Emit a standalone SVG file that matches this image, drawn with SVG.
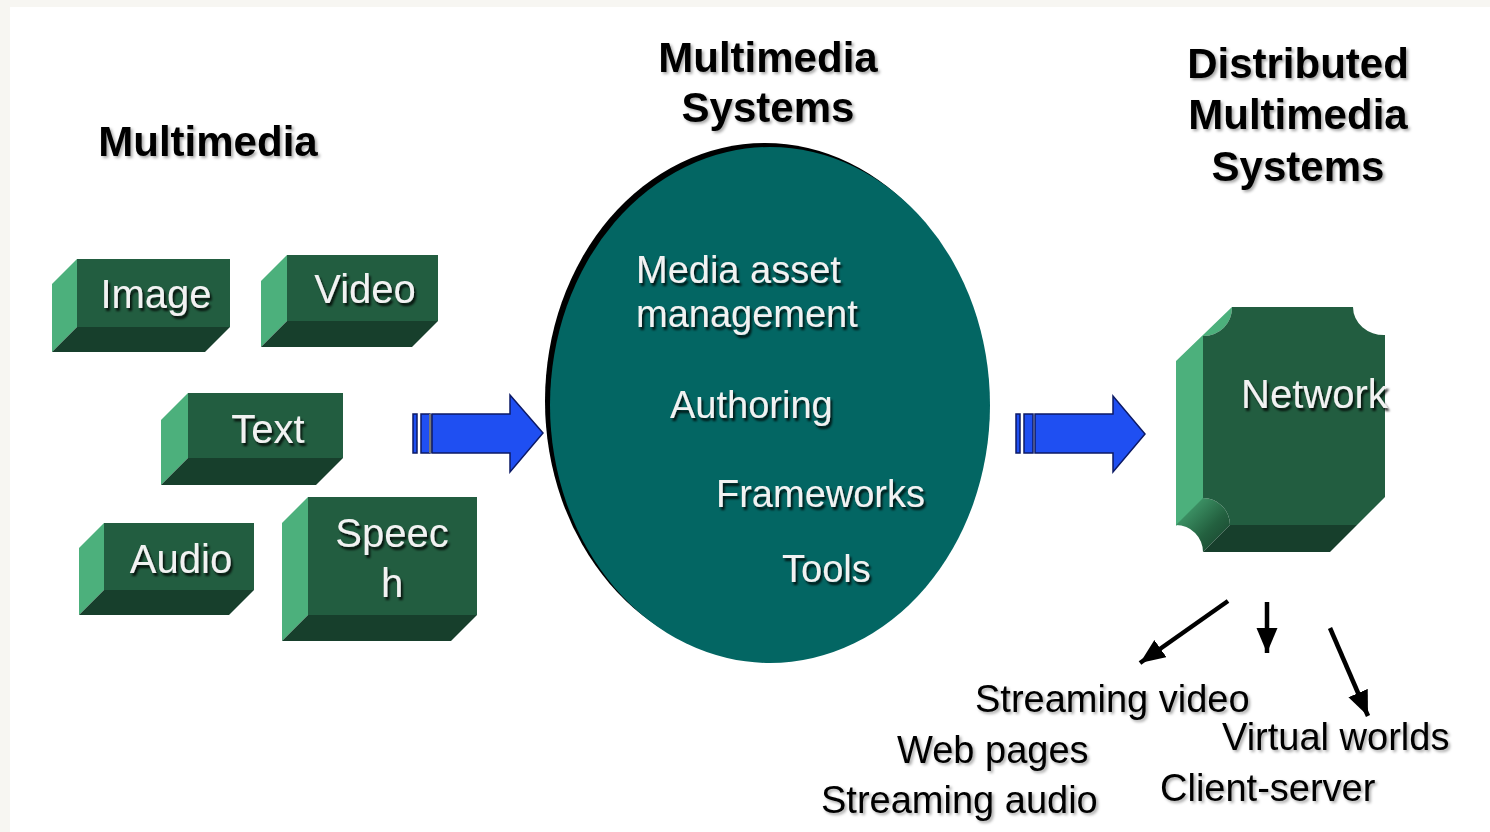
<svg xmlns="http://www.w3.org/2000/svg" width="1490" height="832" viewBox="0 0 1490 832">
  <style>
    .title { font-family: "Liberation Sans", Arial, sans-serif; font-weight: bold; font-size: 42px; fill: #000; text-anchor: middle; }
    .label { font-family: "Liberation Sans", Arial, sans-serif; font-size: 40px; fill: #f2f2f2; text-anchor: middle; }
    .inner { font-family: "Liberation Sans", Arial, sans-serif; font-size: 38px; fill: #f2f2f2; }
    .out { font-family: "Liberation Sans", Arial, sans-serif; font-size: 38px; fill: #000; }
    .front { fill: #225d40; }
    .side { fill: #4cb07c; }
    .bottom { fill: #173f2c; }
    .blue { fill: #1f4ff2; stroke: #0c1a66; stroke-width: 1.5; }
    .conn { stroke: #000; stroke-width: 4.5; fill: none; marker-end: url(#head); }
  </style>
  <defs>
    <filter id="dropDark" x="-10%" y="-30%" width="130%" height="170%">
      <feGaussianBlur in="SourceAlpha" stdDeviation="1.2"/>
      <feOffset dx="2" dy="2.5" result="o"/>
      <feFlood flood-color="#000" flood-opacity="0.8"/>
      <feComposite in2="o" operator="in"/>
      <feMerge><feMergeNode/><feMergeNode in="SourceGraphic"/></feMerge>
    </filter>
    <filter id="dropSoft" x="-10%" y="-30%" width="130%" height="170%">
      <feGaussianBlur in="SourceAlpha" stdDeviation="1.5"/>
      <feOffset dx="2" dy="2" result="o"/>
      <feFlood flood-color="#000" flood-opacity="0.35"/>
      <feComposite in2="o" operator="in"/>
      <feMerge><feMergeNode/><feMergeNode in="SourceGraphic"/></feMerge>
    </filter>
    <marker id="head" markerUnits="userSpaceOnUse" markerWidth="28" markerHeight="24" refX="25" refY="10.5" orient="auto">
      <path d="M0,0 L25,10.5 L0,21 Z" fill="#000"/>
    </marker>
    <linearGradient id="curl" x1="0" y1="0" x2="1" y2="1">
      <stop offset="0" stop-color="#4cb07c"/>
      <stop offset="0.6" stop-color="#23603f"/>
      <stop offset="1" stop-color="#173f2c"/>
    </linearGradient>
  </defs>

  <!-- page -->
  <rect x="0" y="0" width="1490" height="832" fill="#ffffff"/>
  <rect x="0" y="0" width="1490" height="7" fill="#f7f6f2"/>
  <rect x="0" y="0" width="10" height="832" fill="#f7f6f2"/>

  <!-- column headings -->
  <g id="headings" filter="url(#dropSoft)">
    <text class="title" x="208" y="156">Multimedia</text>
    <text class="title" x="768" y="72">Multimedia</text>
    <text class="title" x="768" y="122">Systems</text>
    <text class="title" x="1298" y="78">Distributed</text>
    <text class="title" x="1298" y="129">Multimedia</text>
    <text class="title" x="1298" y="181">Systems</text>
  </g>

  <!-- media blocks -->
  <g id="image">
    <polygon class="side" points="77,259 52,284 52,352 77,327"/>
    <polygon class="bottom" points="77,327 230,327 205,352 52,352"/>
    <rect class="front" x="77" y="259" width="153" height="68"/>
    <text class="label" x="156" y="308" filter="url(#dropDark)">Image</text>
  </g>
  <g id="video">
    <polygon class="side" points="287,255 261,281 261,347 287,321"/>
    <polygon class="bottom" points="287,321 438,321 412,347 261,347"/>
    <rect class="front" x="287" y="255" width="151" height="66"/>
    <text class="label" x="365" y="303" filter="url(#dropDark)">Video</text>
  </g>
  <g id="text">
    <polygon class="side" points="188,393 161,420 161,485 188,458"/>
    <polygon class="bottom" points="188,458 343,458 316,485 161,485"/>
    <rect class="front" x="188" y="393" width="155" height="65"/>
    <text class="label" x="268" y="443" filter="url(#dropDark)">Text</text>
  </g>
  <g id="audio">
    <polygon class="side" points="104,523 79,548 79,615 104,590"/>
    <polygon class="bottom" points="104,590 254,590 229,615 79,615"/>
    <rect class="front" x="104" y="523" width="150" height="67"/>
    <text class="label" x="181" y="573" filter="url(#dropDark)">Audio</text>
  </g>
  <g id="speech">
    <polygon class="side" points="308,497 282,523 282,641 308,615"/>
    <polygon class="bottom" points="308,615 477,615 451,641 282,641"/>
    <rect class="front" x="308" y="497" width="169" height="118"/>
    <text class="label" x="392" y="547" filter="url(#dropDark)">Speec</text>
    <text class="label" x="392" y="597" filter="url(#dropDark)">h</text>
  </g>

  <!-- multimedia systems disc -->
  <g id="systems">
    <ellipse cx="765" cy="401" rx="220" ry="258" fill="#000"/>
    <ellipse cx="770" cy="405" rx="220" ry="258" fill="#036663"/>
    <g filter="url(#dropDark)">
      <text class="inner" x="636" y="283">Media asset</text>
      <text class="inner" x="636" y="327">management</text>
      <text class="inner" x="670" y="418">Authoring</text>
      <text class="inner" x="716" y="507">Frameworks</text>
      <text class="inner" x="782" y="582">Tools</text>
    </g>
  </g>

  <!-- network block -->
  <g id="network">
    <path class="side" d="M1232,307 L1176,361 L1176,526 L1203,499 L1203,336 A28,28 0 0 0 1232,307 Z"/>
    <path fill="url(#curl)" d="M1230,525 A27,27 0 0 0 1203,498 L1176,525 A27,27 0 0 1 1203,552 Z"/>
    <polygon class="bottom" points="1230,525 1357,525 1330,552 1203,552"/>
    <path class="front" d="M1232,307 L1353,307 A31,28 0 0 0 1385,335 L1385,497 L1357,525 L1230,525 A27,27 0 0 0 1203,498 L1203,336 A28,28 0 0 0 1232,307 Z"/>
    <text class="label" x="1241" y="408" style="text-anchor:start" filter="url(#dropDark)">Network</text>
  </g>

  <!-- connectors -->
  <g id="connectors">
    <g id="flow-in">
      <rect class="blue" x="413" y="414" width="4" height="39"/>
      <rect class="blue" x="421" y="414" width="9" height="39"/>
      <rect x="429" y="414" width="3" height="39" fill="#777"/>
      <polygon class="blue" points="432,414 510,414 510,395 543,433 510,472 510,453 432,453"/>
    </g>
    <g id="flow-out">
      <rect class="blue" x="1016" y="414" width="4" height="39"/>
      <rect class="blue" x="1024" y="414" width="9" height="39"/>
      <polygon class="blue" points="1035,414 1113,414 1113,396 1145,434 1113,472 1113,453 1035,453"/>
    </g>
    <path class="conn" d="M1228,601 L1140,663"/>
    <path class="conn" d="M1267,602 L1267,653"/>
    <path class="conn" d="M1330,628 L1368,716"/>
  </g>

  <!-- services -->
  <g id="services" filter="url(#dropSoft)">
    <text class="out" x="975" y="712">Streaming video</text>
    <text class="out" x="897" y="763">Web pages</text>
    <text class="out" x="821" y="813">Streaming audio</text>
    <text class="out" x="1222" y="750">Virtual worlds</text>
    <text class="out" x="1160" y="801">Client-server</text>
  </g>
</svg>
